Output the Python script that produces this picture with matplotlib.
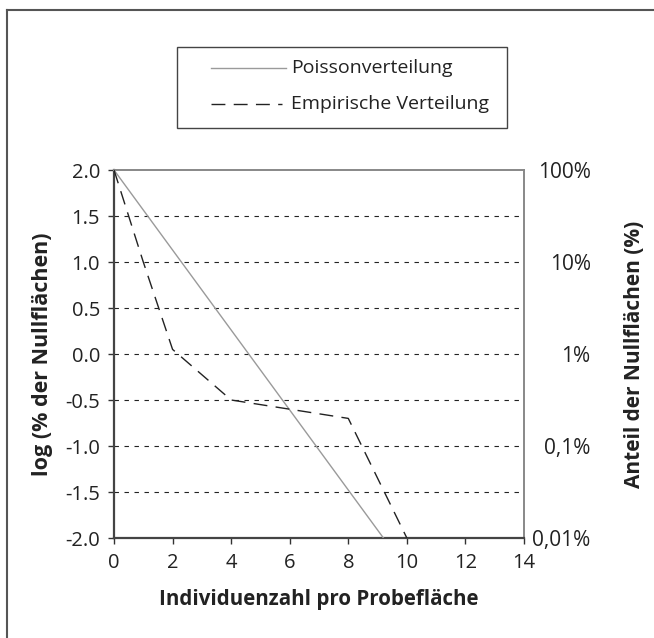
import matplotlib
matplotlib.use("Agg")
import matplotlib.pyplot as plt
from matplotlib.lines import Line2D
from matplotlib.patches import Rectangle

plt.rcParams['font.family'] = ['Open Sans', 'DejaVu Sans']

# Data
poisson_x = [0, 9.2]
poisson_y = [2.0, -2.0]
emp_x = [0, 1, 2, 4, 6, 8, 10]
emp_y = [2.0, 1.0, 0.05, -0.5, -0.6, -0.7, -2.0]
x_ticks = [0, 2, 4, 6, 8, 10, 12, 14]
y_ticks = [-2.0, -1.5, -1.0, -0.5, 0.0, 0.5, 1.0, 1.5, 2.0]
grid_levels = [-1.5, -1.0, -0.5, 0.0, 0.5, 1.0, 1.5]
right_ticks = [2.0, 1.0, 0.0, -1.0, -2.0]
right_labels = ['100%', '10%', '1%', '0,1%', '0,01%']
legend_labels = ['Poissonverteilung', 'Empirische Verteilung']

W, H = 654, 638
fig = plt.figure(figsize=(W / 100, H / 100), dpi=100)

def fx(px):
    return px / W

def fy(py):
    return 1 - py / H

ax = fig.add_axes([fx(114), fy(538), fx(524) - fx(114), fy(170) - fy(538)])
ax.set_xlim(0, 14)
ax.set_ylim(-2.0, 2.0)

for g in grid_levels:
    ax.axhline(g, color='#222222', lw=0.8, dashes=(4, 5), zorder=1)

ax.plot(poisson_x, poisson_y, color='#9a9a9a', lw=1.0, zorder=3)
ax.plot(emp_x, emp_y, color='#222222', lw=1.0, dashes=(10, 6), zorder=3)

ax.set_xticks(x_ticks)
ax.set_xticklabels([str(v) for v in x_ticks])
ax.set_yticks(y_ticks)
ax.set_yticklabels([f"{v:.1f}" for v in y_ticks])
ax.tick_params(axis='both', direction='out', length=4, width=1.0,
               colors='#333333', labelsize=14.5, labelcolor='#222222')
ax.tick_params(axis='x', pad=7)
ax.tick_params(axis='y', pad=6)

for s in ['left', 'bottom']:
    ax.spines[s].set_color('#444444')
    ax.spines[s].set_linewidth(1.6)
for s in ['top', 'right']:
    ax.spines[s].set_color('#888888')
    ax.spines[s].set_linewidth(1.4)

ax.set_xlabel('Individuenzahl pro Probefläche', fontsize=14.8, fontweight='bold',
              color='#222222', labelpad=11)
ax.set_ylabel('log (% der Nullflächen)', fontsize=15.5, fontweight='bold',
              color='#222222', labelpad=9)

ax2 = ax.twinx()
ax2.set_ylim(-2.0, 2.0)
ax2.set_yticks(right_ticks)
ax2.set_yticklabels(right_labels, ha='right')
ax2.tick_params(axis='y', length=0, pad=48, labelsize=15, labelcolor='#222222')
for s in ax2.spines.values():
    s.set_visible(False)
ax2.set_ylabel('Anteil der Nullflächen (%)', fontsize=15, fontweight='bold',
               color='#222222', labelpad=24)

# Outer frame (top and left edges visible)
fig.add_artist(Line2D([fx(7), 1.0], [fy(10), fy(10)], color='#555555', lw=1.5))
fig.add_artist(Line2D([fx(7), fx(7)], [fy(10), 0.0], color='#555555', lw=1.5))

# Legend box
fig.add_artist(Rectangle((fx(177), fy(128)), fx(507) - fx(177), fy(47) - fy(128),
                         fill=False, edgecolor='#444444', lw=1.0))
fig.add_artist(Line2D([fx(211), fx(286)], [fy(68), fy(68)], color='#9a9a9a', lw=1.0))
fig.add_artist(Line2D([fx(211), fx(282)], [fy(104), fy(104)], color='#222222', lw=1.0,
                      dashes=(10, 6)))
fig.text(fx(291), fy(68), legend_labels[0], fontsize=14, color='#222222',
         va='center', ha='left')
fig.text(fx(291), fy(104), legend_labels[1], fontsize=14, color='#222222',
         va='center', ha='left')

fig.savefig('out.png', dpi=100)
